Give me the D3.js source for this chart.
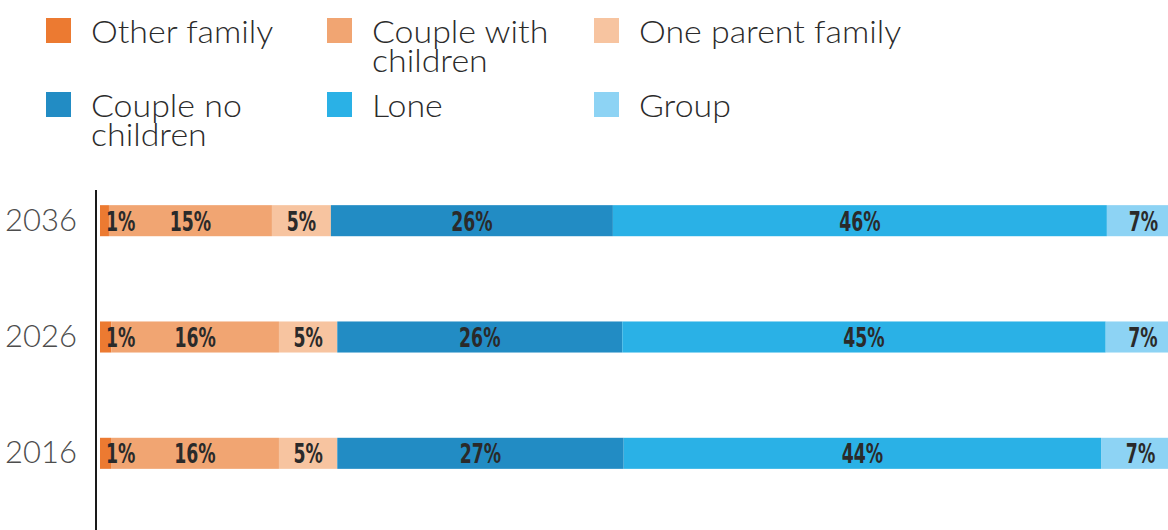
<!DOCTYPE html>
<html>
<head>
<meta charset="utf-8">
<script src="https://cdn.jsdelivr.net/npm/d3@7"></script>
<style>
  body { margin: 0; background: #fff; }
</style>
</head>
<body>
<div id="holder"></div>
<script>
const years = ["2036", "2026", "2016"];
const categories = ["Other family", "Couple with children", "One parent family",
                    "Couple no children", "Lone", "Group"];
// share of households (%), one entry per year above
const otherFamily = [0.83, 1.06, 1.02];
const coupleWithChildren = [15.09, 15.51, 15.55];
const oneParentFamily = [5.46, 5.40, 5.40];
const coupleNoChildren = [26.11, 26.39, 26.52];
const lone = [45.74, 44.76, 44.20];
const group = [6.77, 6.88, 7.31];
const colors = ["#ec7a31", "#f1a572", "#f7c4a0", "#228cc4", "#2ab1e6", "#8dd3f4"];

const width = 1168;
const height = 530;
const series = [otherFamily, coupleWithChildren, oneParentFamily, coupleNoChildren, lone, group];

const dataset = years.map((year, i) => {
    const row = { year: year };
    categories.forEach((c, j) => { row[c] = series[j][i]; });
    return row;
});

const svg = d3.select("#holder")
    .append("svg")
    .attr("width", width)
    .attr("height", height);

const xScale = d3.scaleLinear()
    .domain([0, 100])
    .range([100, 1180]);

const yScale = d3.scaleBand()
    .domain(years)
    .range([147, 527])
    .paddingInner(0.733)
    .paddingOuter(0.5);

const colorScale = d3.scaleOrdinal()
    .domain(categories)
    .range(colors);

const stacked = d3.stack().keys(categories)(dataset);

// bars
svg.append("g")
    .selectAll("g")
    .data(stacked)
    .enter()
    .append("g")
    .attr("fill", (d) => colorScale(d.key))
    .selectAll("rect")
    .data((d) => d)
    .enter()
    .append("rect")
    .attr("x", (d) => xScale(d[0]))
    .attr("y", (d) => yScale(d.data.year))
    .attr("width", (d) => xScale(d[1]) - xScale(d[0]))
    .attr("height", yScale.bandwidth());

// value labels, drawn after all bars so narrow segments keep their label
const squeeze = 0.74;
svg.append("g")
    .selectAll("text")
    .data(stacked.flat())
    .enter()
    .append("text")
    .attr("text-anchor", "middle")
    .style("font-family", "'DejaVu Sans Condensed', 'Liberation Sans Narrow', sans-serif")
    .style("font-weight", "bold")
    .style("font-size", "26px")
    .attr("fill", "#2a2a2a")
    .text((d) => Math.round(d[1] - d[0]) + "%")
    .attr("transform", function (d) {
        const x0 = xScale(d[0]);
        const x1 = xScale(d[1]);
        const w = this.getComputedTextLength() * squeeze;
        const cx = Math.max((x0 + x1) / 2, x0 + 6 + w / 2);
        const cy = yScale(d.data.year) + yScale.bandwidth() / 2 + 10;
        return `translate(${cx}, ${cy}) scale(${squeeze}, 1)`;
    });

// vertical axis line + year labels
const yAxis = d3.axisLeft(yScale).tickSize(0).tickPadding(19);
svg.append("g")
    .attr("transform", "translate(96, 0)")
    .call(yAxis)
    .call((g) => g.select(".domain").remove())
    .selectAll("text")
    .style("font-family", "Lato, 'Open Sans', sans-serif")
    .style("font-weight", "300")
    .style("font-size", "31px")
    .attr("fill", "#4d4d4d");

svg.append("line")
    .attr("x1", 96).attr("x2", 96)
    .attr("y1", 190).attr("y2", height)
    .attr("stroke", "#1a1a1a")
    .attr("stroke-width", 2);

// legend
const legendCols = [91, 372, 639];
const legendRows = [43, 117];
const legend = svg.selectAll("g.legend")
    .data(categories)
    .enter()
    .append("g")
    .attr("class", "legend")
    .attr("transform", (d, i) => `translate(${legendCols[i % 3]}, ${legendRows[Math.floor(i / 3)]})`);

legend.append("rect")
    .attr("x", -45)
    .attr("y", -25)
    .attr("width", 25)
    .attr("height", 25)
    .attr("fill", (d) => colorScale(d));

legend.append("text")
    .attr("transform", "scale(1.06, 1)")
    .style("font-family", "Lato, 'Open Sans', sans-serif")
    .style("font-weight", "300")
    .style("font-size", "32px")
    .attr("fill", "#2b2b2b")
    .each(function (d, i) {
        const col = i % 3;
        const maxWidth = ((col < 2 ? legendCols[col + 1] - 45 : width) - legendCols[col] - 10) / 1.06;
        const text = d3.select(this);
        const words = d.split(" ");
        let line = [];
        let lineNo = 0;
        let tspan = text.append("tspan").attr("x", 0).attr("y", 0);
        words.forEach((w) => {
            line.push(w);
            tspan.text(line.join(" "));
            if (tspan.node().getComputedTextLength() > maxWidth && line.length > 1) {
                line.pop();
                tspan.text(line.join(" "));
                line = [w];
                lineNo++;
                tspan = text.append("tspan").attr("x", 0).attr("y", lineNo * 29).text(w);
            }
        });
    });
</script>
</body>
</html>
